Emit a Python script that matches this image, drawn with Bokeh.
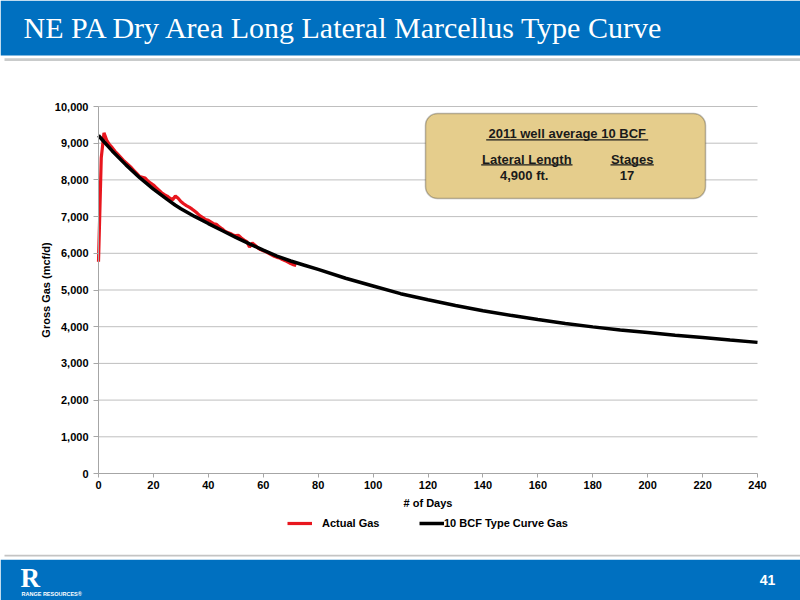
import math
from bokeh.plotting import figure
from bokeh.models import (Range1d, NumeralTickFormatter, FixedTicker, BoxAnnotation,
                          Label, Legend, LegendItem)
from bokeh.embed import file_html
from bokeh.resources import INLINE

# ---------------- data ----------------
actual_days = list(range(0, 73))
actual_gas = [5770, 8600, 9280, 9080, 8960, 8880, 8780, 8700, 8620, 8540,
              8470, 8400, 8330, 8250, 8170, 8090, 8070, 8050, 7970, 7910,
              7860, 7790, 7720, 7650, 7600, 7560, 7500, 7460, 7560, 7500,
              7410, 7350, 7300, 7260, 7210, 7150, 7090, 7020, 6970, 6920,
              6900, 6850, 6800, 6790, 6720, 6670, 6600, 6570, 6540, 6500,
              6480, 6490, 6420, 6360, 6320, 6170, 6280, 6220, 6150, 6100,
              6070, 6040, 6000, 5960, 5920, 5890, 5870, 5830, 5800, 5760,
              5720, 5690, 5665]

type_days = [0, 2, 5, 10, 15, 20, 25, 28, 30, 35, 40, 45, 50, 55, 60, 65, 70,
             75, 80, 90, 100, 110, 120, 130, 140, 150, 160, 170, 180, 190, 200,
             210, 220, 230, 240]
type_gas = [9210, 9040, 8790, 8410, 8060, 7750, 7470, 7310, 7215, 7005, 6810,
            6620, 6435, 6258, 6085, 5922, 5790, 5675, 5560, 5320, 5110, 4900,
            4735, 4580, 4435, 4310, 4195, 4090, 3995, 3910, 3840, 3770, 3705,
            3638, 3573]

x_ticks = list(range(0, 241, 20))
y_ticks = list(range(0, 10001, 1000))

series_names = ["Actual Gas", "10 BCF Type Curve Gas"]
x_title = "# of Days"
y_title = "Gross Gas (mcf/d)"
title_text = "NE PA Dry Area Long Lateral Marcellus Type Curve"
box_title = "2011 well average 10 BCF"
box_heads = ["Lateral Length", "Stages"]
box_vals = ["4,900 ft.", "17"]
page_no = "41"
company = "RANGE RESOURCES\u00ae"

W, H = 800, 600
BLUE = "#0070C0"
RED = "#E8161E"
SANS = "Liberation Sans"
X_MAX, Y_MAX = 240, 10000

# the chart area spans page pixels x 98..757 and y 473 (0) .. 106 (10,000)
PX_DAY = 659.0 / X_MAX
PX_UNIT = 367.0 / Y_MAX

def dx(a):
    return (a - 98) / PX_DAY

def dy(a):
    return (473 - a) / PX_UNIT

p = figure(width=W, height=H, x_range=Range1d(dx(0), dx(W)), y_range=Range1d(dy(H), dy(0)),
           toolbar_location=None, output_backend="svg", min_border=0)
p.outline_line_color = None
p.background_fill_color = "white"
p.border_fill_color = "white"
p.grid.visible = False

p.xaxis.fixed_location = 0
p.yaxis.fixed_location = 0
p.xaxis.bounds = (0, X_MAX)
p.yaxis.bounds = (0, Y_MAX)
p.xaxis.ticker = FixedTicker(ticks=x_ticks)
p.yaxis.ticker = FixedTicker(ticks=y_ticks)
p.yaxis.formatter = NumeralTickFormatter(format="0,0")
for ax in (p.xaxis[0], p.yaxis[0]):
    ax.axis_line_color = "#A6A6A6"
    ax.major_tick_line_color = "#A6A6A6"
    ax.major_tick_in = 0
    ax.minor_tick_line_color = None
    ax.major_label_text_font = SANS
    ax.major_label_text_font_size = "11px"
    ax.major_label_text_font_style = "bold"
    ax.major_label_text_color = "black"
p.yaxis.major_tick_out = 5
p.yaxis.major_label_standoff = 5
p.xaxis.major_tick_out = 4
p.xaxis.major_label_standoff = 3

# horizontal gridlines over the chart area
gy = y_ticks[1:]
p.segment(x0=[0] * len(gy), x1=[X_MAX] * len(gy), y0=gy, y1=gy,
          line_color="#BFBFBF", line_width=1)

# header / footer bands
def band(top, bottom, color, left=0):
    p.quad(left=[dx(left)], right=[dx(W)], top=[dy(top)], bottom=[dy(bottom)],
           fill_color=color, line_color=None)

band(0, 55, BLUE)
band(57.8, 60.6, "#C9CBCB", left=4)
band(554.3, 556.0, "#C4C4C4", left=4)
band(559.3, 600, BLUE)

p.add_layout(Label(x=dx(23), y=dy(26.5), text=title_text,
                   text_font="Liberation Serif", text_font_size="30px",
                   text_color="white", text_baseline="alphabetic"))
p.add_layout(Label(x=dx(20), y=dy(577), text="R",
                   text_font="Liberation Serif", text_font_size="27px",
                   text_font_style="bold", text_color="white",
                   text_baseline="alphabetic"))
p.add_layout(Label(x=dx(21), y=dy(593), text=company, text_font=SANS,
                   text_font_size="5.5px", text_font_style="bold", text_color="white",
                   text_baseline="middle"))
p.add_layout(Label(x=dx(767), y=dy(579), text=page_no,
                   text_font=SANS, text_font_size="14px", text_font_style="bold",
                   text_color="white", text_align="center", text_baseline="middle"))

# axis titles
axt = dict(text_font=SANS, text_font_size="11px", text_font_style="bold",
           text_color="black", text_align="center", text_baseline="middle")
p.add_layout(Label(x=dx(427.5), y=dy(502.7), text=x_title, **axt))
p.add_layout(Label(x=dx(45), y=dy(289.5), text=y_title, angle=math.pi / 2, **axt))

# data lines
r_act = p.line(actual_days, actual_gas, line_color=RED, line_width=3.2)
r_type = p.line(type_days, type_gas, line_color="black", line_width=3.5)

# annotation box
p.add_layout(BoxAnnotation(left=dx(425), right=dx(705), top=dy(113), bottom=dy(198),
                           fill_color="#E5CD8C", fill_alpha=1.0,
                           line_color="#222222", line_width=1.5, border_radius=12))
for (a, b, yy) in [(485.7, 647.7, 139.3), (480.7, 572.0, 164.3), (610.0, 653.3, 164.3)]:
    p.add_layout(BoxAnnotation(left=dx(a), right=dx(b), top=dy(yy - 0.65),
                               bottom=dy(yy + 0.65), fill_color="#1a1a1a",
                               fill_alpha=1.0, line_color=None))
lab_kw = dict(text_align="center", text_baseline="middle", text_font=SANS,
              text_font_size="13px", text_font_style="bold", text_color="#1a1a1a")
p.add_layout(Label(x=dx(566.7), y=dy(132.5), text=box_title, **lab_kw))
p.add_layout(Label(x=dx(526.3), y=dy(158.5), text=box_heads[0], **lab_kw))
p.add_layout(Label(x=dx(631.7), y=dy(158.5), text=box_heads[1], **lab_kw))
p.add_layout(Label(x=dx(523.7), y=dy(175), text=box_vals[0], **lab_kw))
p.add_layout(Label(x=dx(626.5), y=dy(175), text=box_vals[1], **lab_kw))

# legend (two entries, positioned under the axis title)
leg_kw = dict(orientation="horizontal", glyph_width=25, glyph_height=14,
              padding=0, margin=0, border_line_color=None, background_fill_alpha=0,
              label_text_font=SANS, label_text_font_size="11px",
              label_text_font_style="bold", label_text_color="black")
p.add_layout(Legend(items=[LegendItem(label=series_names[0], renderers=[r_act])],
                    location=(287, H - 530), label_standoff=10, **leg_kw))
p.add_layout(Legend(items=[LegendItem(label=series_names[1], renderers=[r_type])],
                    location=(419, H - 530), label_standoff=0, **leg_kw))

open("out.html", "w").write(file_html(p, INLINE))
